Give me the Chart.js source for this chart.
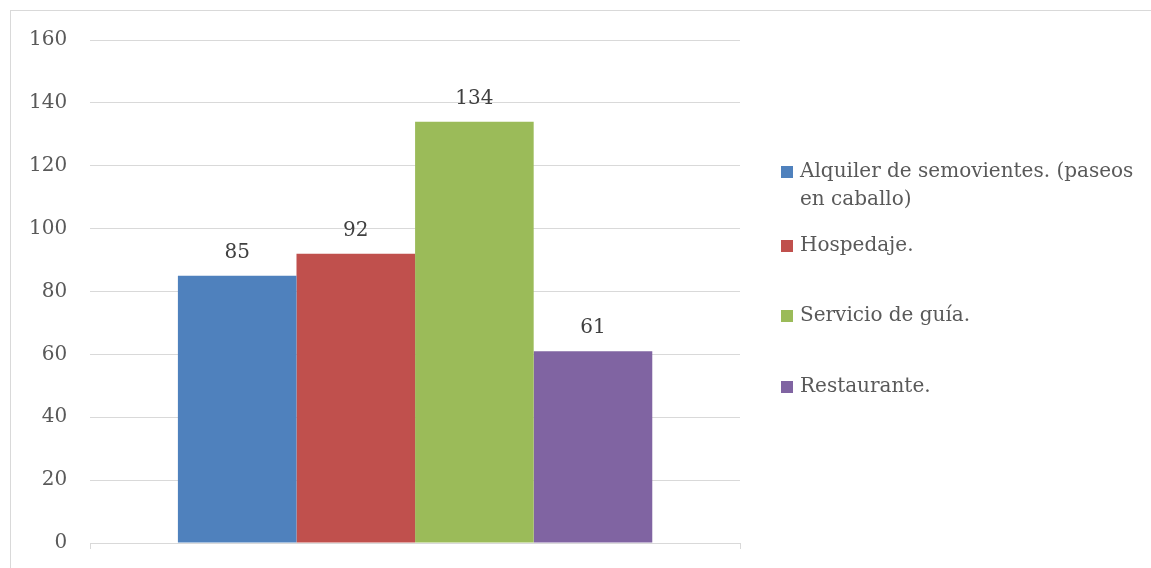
<!DOCTYPE html>
<html>
<head>
<meta charset="utf-8">
<script src="https://cdn.jsdelivr.net/npm/chart.js@4.4.1/dist/chart.umd.min.js"></script>
<style>
  html, body { margin: 0; padding: 0; background: #fff; overflow: hidden; }
  #wrap { position: relative; width: 1151px; height: 568px; }
  #frame { position: absolute; left: 10px; top: 10px; width: 1300px; height: 700px; border: 1px solid #d9d9d9; }
  canvas { position: absolute; left: 0; top: 0; }
</style>
</head>
<body>
<div id="wrap">
  <div id="frame"></div>
  <canvas id="servChart" width="1151" height="568"></canvas>
</div>
<script>
// Datos del gráfico
const categories = [''];
const seriesNames = [
    ['Alquiler de semovientes. (paseos', 'en caballo)'],
    'Hospedaje.',
    'Servicio de guía.',
    'Restaurante.'
];
const seriesValues = [[85], [92], [134], [61]];
const seriesColors = ['#4f81bd', '#c0504d', '#9bbb59', '#8064a2'];
const yTicks = [0, 20, 40, 60, 80, 100, 120, 140, 160];

const FONT = 'DejaVu Serif';

// etiquetas de valor encima de cada barra
const valueLabels = {
    id: 'valueLabels',
    afterDatasetsDraw(chart) {
        const ctx = chart.ctx;
        ctx.save();
        ctx.font = '20px "' + FONT + '"';
        ctx.fillStyle = '#404040';
        ctx.textAlign = 'center';
        ctx.textBaseline = 'bottom';
        chart.data.datasets.forEach((ds, i) => {
            const meta = chart.getDatasetMeta(i);
            meta.data.forEach((bar, j) => {
                ctx.fillText(String(ds.data[j]), bar.x, bar.y - 13);
            });
        });
        ctx.restore();
    }
};

// leyenda a la derecha (estilo Excel, con texto en dos líneas)
const sideLegend = {
    id: 'sideLegend',
    afterDraw(chart) {
        const ctx = chart.ctx;
        const area = chart.chartArea;
        const boxX = area.right + 41;
        const textX = boxX + 19;
        const lineH = 28;
        const itemTops = [172, 246, 316, 387];
        ctx.save();
        ctx.font = '20px "' + FONT + '"';
        ctx.textBaseline = 'middle';
        ctx.textAlign = 'left';
        chart.data.datasets.forEach((ds, i) => {
            const lines = Array.isArray(ds.label) ? ds.label : [ds.label];
            const y = itemTops[i];
            ctx.fillStyle = ds.backgroundColor;
            ctx.fillRect(boxX, y - 6, 12, 12);
            ctx.fillStyle = '#595959';
            lines.forEach((t, k) => ctx.fillText(t, textX, y + k * lineH));
        });
        ctx.restore();
    }
};

document.addEventListener('DOMContentLoaded', function() {
    const ctx = document.getElementById('servChart').getContext('2d');
    new Chart(ctx, {
        type: 'bar',
        data: {
            labels: categories,
            datasets: seriesNames.map((name, i) => ({
                label: name,
                data: seriesValues[i],
                backgroundColor: seriesColors[i],
                borderWidth: 0,
                barPercentage: 1,
                categoryPercentage: 0.73
            }))
        },
        options: {
            responsive: false,
            animation: false,
            layout: {
                padding: { left: 6, top: 40, right: 411, bottom: 8 }
            },
            plugins: {
                legend: { display: false },
                title: { display: false },
                tooltip: { enabled: false }
            },
            scales: {
                x: {
                    afterFit(axis) { axis.height = 17; },
                    grid: {
                        display: true,
                        drawOnChartArea: false,
                        drawTicks: true,
                        tickLength: 6,
                        color: '#d9d9d9'
                    },
                    border: { display: true, color: '#d9d9d9' },
                    ticks: { display: false }
                },
                y: {
                    min: 0,
                    max: 160,
                    afterBuildTicks(axis) {
                        axis.ticks = yTicks.map(v => ({ value: v }));
                    },
                    afterFit(axis) {
                        axis.paddingTop = 0;
                        axis.paddingBottom = 0;
                    },
                    grid: {
                        color: '#d9d9d9',
                        drawTicks: false
                    },
                    border: { display: false },
                    ticks: {
                        padding: 23,
                        color: '#595959',
                        font: { family: FONT, size: 20 }
                    }
                }
            }
        },
        plugins: [valueLabels, sideLegend]
    });
});
</script>
</body>
</html>
